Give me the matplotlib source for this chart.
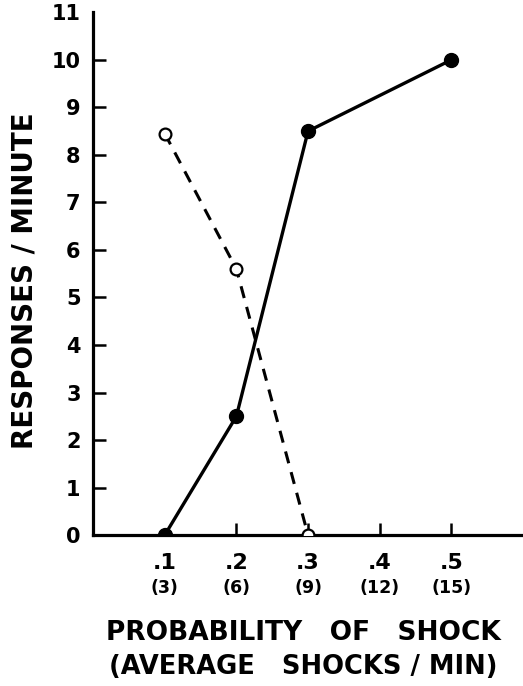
import matplotlib.pyplot as plt

# data
prob = [0.1, 0.2, 0.3, 0.4, 0.5]
prob_labels = ['.1', '.2', '.3', '.4', '.5']
shock_labels = ['(3)', '(6)', '(9)', '(12)', '(15)']

filled_x = [0.1, 0.2, 0.3, 0.5]
filled_y = [0, 2.5, 8.5, 10]
open_x = [0.1, 0.2, 0.3]
open_y = [8.45, 5.6, 0]

y_ticks = list(range(0, 12))

plt.rcParams['font.family'] = ['DejaVu Sans']
plt.rcParams['font.weight'] = 'bold'

fig = plt.figure(figsize=(5.23, 6.86), dpi=100)
ax = fig.add_axes([0.178, 0.22, 0.822, 0.762])

ax.plot(open_x, open_y, color='black', lw=2.2, ls=(0, (4, 3)),
        marker='o', ms=8.5, mfc='white', mec='black', mew=1.6, zorder=3)
ax.plot(filled_x, filled_y, color='black', lw=2.4,
        marker='o', ms=10, mfc='black', mec='black', zorder=4)

ax.set_xlim(0, 0.6)
ax.set_ylim(0, 11)
ax.spines['top'].set_visible(False)
ax.spines['right'].set_visible(False)
ax.spines['left'].set_linewidth(2.3)
ax.spines['bottom'].set_linewidth(2.3)

ax.set_yticks(y_ticks)
ax.set_yticklabels([str(v) for v in y_ticks], fontsize=15, fontweight='bold')
ax.set_xticks(prob[1:])
ax.set_xticklabels([])
ax.tick_params(axis='y', direction='in', length=9, width=1.8, pad=9)
ax.tick_params(axis='x', direction='in', length=9, width=1.8)
ax.yaxis.get_major_ticks()[0].tick1line.set_visible(False)
ax.yaxis.get_major_ticks()[-1].tick1line.set_visible(False)

for x, lab1, lab2 in zip(prob, prob_labels, shock_labels):
    ax.annotate(lab1, xy=(x, 0), xycoords=('data', 'axes fraction'),
                xytext=(0, -20), textcoords='offset points',
                ha='center', va='center', fontsize=16, fontweight='bold')
    ax.annotate(lab2, xy=(x, 0), xycoords=('data', 'axes fraction'),
                xytext=(0, -38), textcoords='offset points',
                ha='center', va='center', fontsize=12.5, fontweight='bold')

fig.text(0.58, 1 - 633 / 686, 'PROBABILITY   OF   SHOCK', ha='center', va='center',
         fontsize=19, fontweight='bold')
fig.text(0.58, 1 - 667 / 686, '(AVERAGE   SHOCKS / MIN)', ha='center', va='center',
         fontsize=18.5, fontweight='bold')
fig.text(0.046, 1 - 281 / 686, 'RESPONSES / MINUTE', ha='center', va='center',
         rotation=90, fontsize=20, fontweight='bold')

fig.savefig('out.png', dpi=100)
